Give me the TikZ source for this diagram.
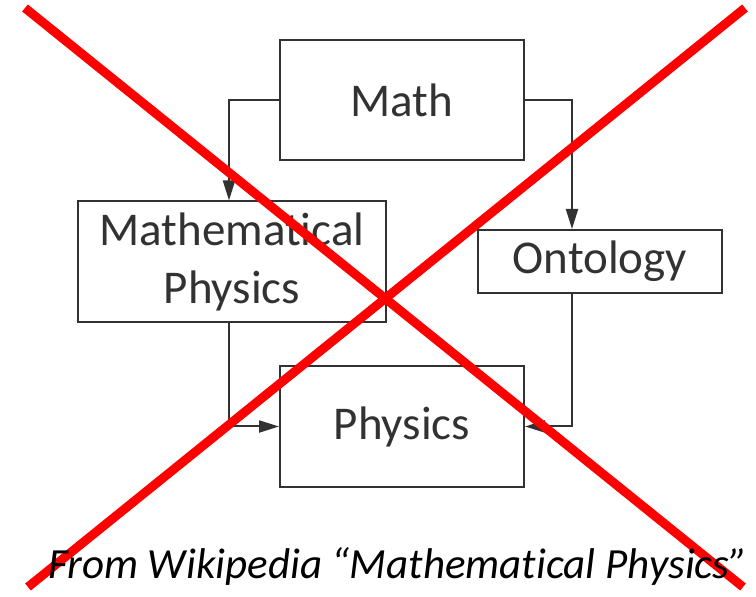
\documentclass[tikz,border=0pt]{standalone}
\usepackage{fontspec}
\setmainfont[RawFeature={-liga;-calt;-dlig}]{Carlito}
\usepackage{tikz}
\usetikzlibrary{arrows.meta, positioning, calc}

\definecolor{linegray}{RGB}{50,50,50}

\begin{document}
\begin{tikzpicture}[
    x=0.5pt, y=-0.5pt,
    box/.style={rectangle, draw=linegray, line width=1pt, inner sep=0pt, align=center, text=linegray, font=\fontsize{23.5}{29}\selectfont},
    arrow/.style={-{Triangle[length=10pt, width=6pt]}, draw=linegray, line width=1pt},
    cross/.style={draw=red, line width=4.5pt},
]
\useasboundingbox (0,0) rectangle (756,597);

\node[box, minimum width=122pt, minimum height=60pt] (math) at (402,100) {Math};
\node[box, minimum width=154pt, minimum height=60.5pt] (mphys) at (232,262) {Mathematical\\Physics};
\node[box, minimum width=122pt, minimum height=31.5pt] (onto) at (600,261.5) {Ontology};
\node[box, minimum width=122pt, minimum height=60.5pt] (phys) at (402,426.5) {Physics};

\draw[arrow] (math.west) -| ([xshift=-1.5pt]mphys.north);
\draw[arrow] (math.east) -| ([xshift=-14pt]onto.north);
\draw[arrow] ([xshift=-1.5pt]mphys.south) |- (phys.west);
\draw[arrow] ([xshift=-14pt]onto.south) |- (phys.east);

% the red cross over the whole diagram
\draw[cross] (25,8) -- (743,587);
\draw[cross] (745,8) -- (28,587);

\node[font=\fontsize{21.5}{23}\selectfont\itshape, inner sep=0pt] (caption) at (398,566) {From Wikipedia “Mathematical Physics”};
\end{tikzpicture}
\end{document}
